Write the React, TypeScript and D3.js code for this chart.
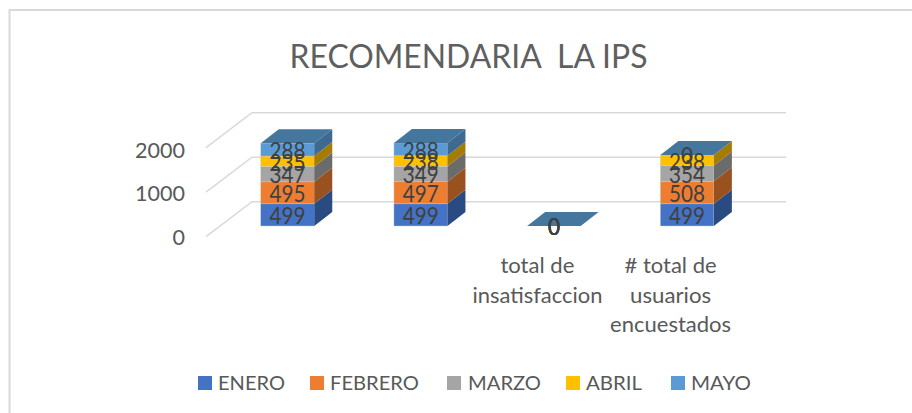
import React from "react";
import * as d3 from "d3";

const categories = ["", "", "total de\ninsatisfaccion", "# total de\nusuarios\nencuestados"];
const seriesNames = ["ENERO", "FEBRERO", "MARZO", "ABRIL", "MAYO"];
const enero = [499, 499, 0, 499];
const febrero = [495, 497, 0, 508];
const marzo = [347, 349, 0, 354];
const abril = [235, 238, 0, 238];
const mayo = [288, 288, 0, 0];
const yTicks = [0, 1000, 2000];

const seriesValues = [enero, febrero, marzo, abril, mayo];
const frontColors = ["#4472c4", "#ed7d31", "#a5a5a5", "#ffc000", "#5b9bd5"];
const sideColors = ["#2a4a82", "#98511f", "#6b6b6b", "#a67c00", "#3e6a91"];
const topColor = "#44769e";

const FONT = "Lato, 'Open Sans', sans-serif";
const lineWidths: Record<string, number> = {
  "total de": 74,
  insatisfaccion: 130,
  "# total de": 92,
  usuarios: 81,
  encuestados: 121,
};
const legendLayout = [
  { sq: 198, tx: 218, w: 67 },
  { sq: 310, tx: 330, w: 89 },
  { sq: 447, tx: 468, w: 73 },
  { sq: 566, tx: 586, w: 56 },
  { sq: 671, tx: 691, w: 60 },
];

function T({ x, y, w, fs, fill, anchor = "middle", children }: any) {
  return (
    <text
      x={x}
      y={y}
      fontSize={fs}
      fill={fill}
      fontFamily={FONT}
      textAnchor={anchor}
      textLength={w}
      lengthAdjust="spacingAndGlyphs"
      style={{ whiteSpace: "pre" }}
    >
      {children}
    </text>
  );
}

export default function App() {
  const x = d3.scalePoint<number>().domain(d3.range(categories.length)).range([287.5, 687.1]);
  const barW = 53.5;
  const cx = (i: number) => x(i) as number;
  const yBar = d3.scaleLinear().domain([0, 2000]).range([226, 137.2]);
  const yGrid = d3.scaleLinear().domain([0, 2000]).range([201.7, 112.7]);
  const yTickLabel = d3.scaleLinear().domain([0, 2000]).range([244.5, 158]);
  const depthX = 18;
  const depthY = -14;
  const floorX = 46;
  const floorY = -35;
  const stacked = d3
    .stack<number>()
    .keys(d3.range(seriesValues.length) as any)
    .value((i: any, k: any) => seriesValues[k][i])(d3.range(categories.length) as any);
  const pts = (a: number[][]) => a.map((p) => p.join(",")).join(" ");

  return (
    <svg width={912} height={413} style={{ position: "absolute", left: 0, top: 0 }}>
      <rect width={912} height={413} fill="#fff" />
      <path d="M9.5 413V10H912" fill="none" stroke="#d9d9d9" strokeWidth={2} />
      <T x={468.5} y={67.5} w={358} fs={33} fill="#5f5f5f">
        {"RECOMENDARIA  LA IPS"}
      </T>

      {yTicks.map((t) => (
        <g key={t}>
          <polyline
            points={pts([
              [206, yGrid(t) - floorY],
              [206 + floorX, yGrid(t)],
              [786, yGrid(t)],
            ])}
            fill="none"
            stroke="#d9d9d9"
            strokeWidth={1.5}
          />
          <T x={185} y={yTickLabel(t)} w={String(t).length * 12.5} fs={22} fill="#595959" anchor="end">
            {String(t)}
          </T>
        </g>
      ))}

      {categories.map((_, i) => {
        const x0 = cx(i) - barW / 2;
        const x1 = x0 + barW;
        const top = yBar(stacked[4][i][1]);
        return (
          <g key={i}>
            {stacked.map((s, k) => {
              const b = yBar(s[i][0]);
              const t = yBar(s[i][1]);
              return (
                t !== b && (
                  <g key={k}>
                    <rect x={x0} y={t} width={barW} height={b - t} fill={frontColors[k]} stroke="#c9cdd4" strokeWidth={0.4} />
                    <polygon
                      points={pts([
                        [x1, b],
                        [x1 + depthX, b + depthY],
                        [x1 + depthX, t + depthY],
                        [x1, t],
                      ])}
                      fill={sideColors[k]}
                    />
                  </g>
                )
              );
            })}
            <polygon
              points={pts([
                [x0, top],
                [x1, top],
                [x1 + depthX, top + depthY],
                [x0 + depthX, top + depthY],
              ])}
              fill={topColor}
            />
          </g>
        );
      })}

      {categories.map((_, i) =>
        stacked.map((s, k) => {
          const v = seriesValues[k][i];
          const mid = (yBar(s[i][0]) + yBar(s[i][1])) / 2;
          return (
            <T key={`${i}-${k}`} x={cx(i)} y={mid + 9.3} w={String(v).length * 12} fs={23} fill="#404040">
              {String(v)}
            </T>
          );
        })
      )}

      {categories.map((c, i) =>
        c
          .split("\n")
          .filter((l) => l)
          .map((line, j) => (
            <T key={line} x={cx(i) - 16.5} y={273 + j * 29.5} w={lineWidths[line]} fs={21} fill="#595959">
              {line}
            </T>
          ))
      )}

      {seriesNames.map((n, k) => (
        <g key={n}>
          <rect x={legendLayout[k].sq} y={376} width={14} height={14} fill={frontColors[k]} />
          <T x={legendLayout[k].tx} y={389.5} w={legendLayout[k].w} fs={20} fill="#595959" anchor="start">
            {n}
          </T>
        </g>
      ))}
    </svg>
  );
}
